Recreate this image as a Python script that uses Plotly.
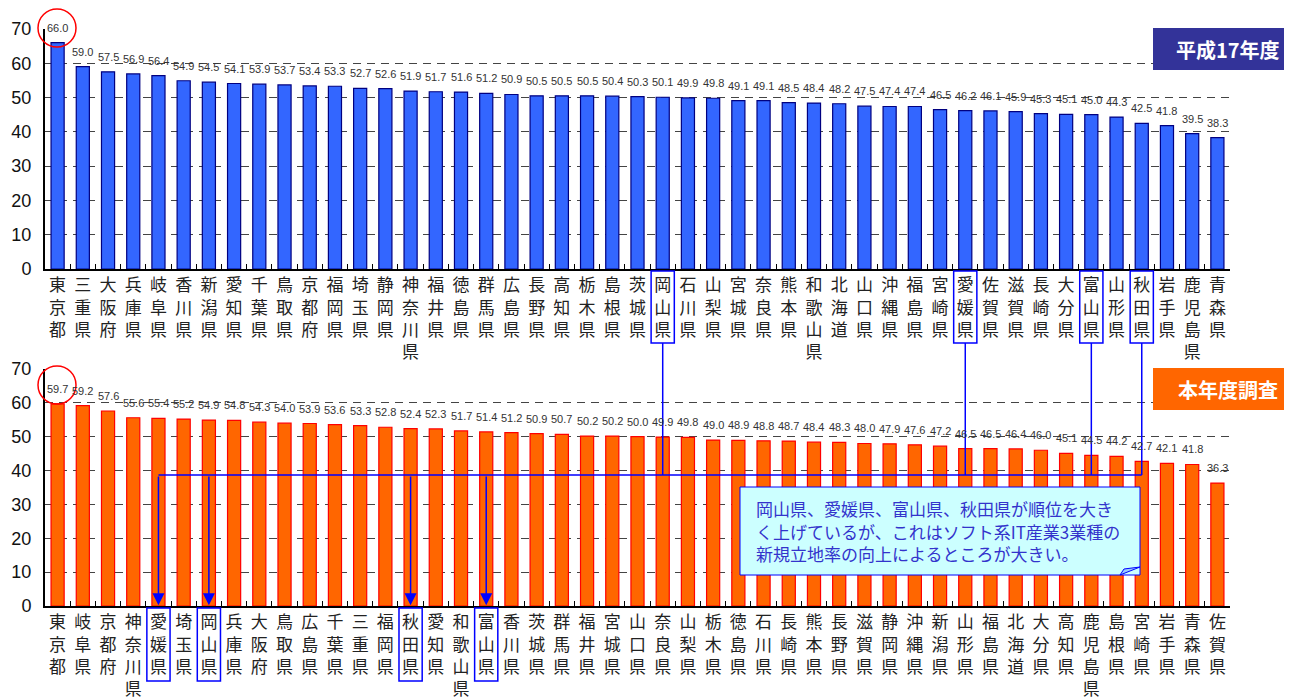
import plotly.graph_objects as go

# ---------------- data ----------------
h17_names = ["東京都","三重県","大阪府","兵庫県","岐阜県","香川県","新潟県","愛知県","千葉県","鳥取県",
             "京都府","福岡県","埼玉県","静岡県","神奈川県","福井県","徳島県","群馬県","広島県","長野県",
             "高知県","栃木県","島根県","茨城県","岡山県","石川県","山梨県","宮城県","奈良県","熊本県",
             "和歌山県","北海道","山口県","沖縄県","福島県","宮崎県","愛媛県","佐賀県","滋賀県","長崎県",
             "大分県","富山県","山形県","秋田県","岩手県","鹿児島県","青森県"]
h17_values = [66.0,59.0,57.5,56.9,56.4,54.9,54.5,54.1,53.9,53.7,
              53.4,53.3,52.7,52.6,51.9,51.7,51.6,51.2,50.9,50.5,
              50.5,50.5,50.4,50.3,50.1,49.9,49.8,49.1,49.1,48.5,
              48.4,48.2,47.5,47.4,47.4,46.5,46.2,46.1,45.9,45.3,
              45.1,45.0,44.3,42.5,41.8,39.5,38.3]

cur_names = ["東京都","岐阜県","京都府","神奈川県","愛媛県","埼玉県","岡山県","兵庫県","大阪府","鳥取県",
             "広島県","千葉県","三重県","福岡県","秋田県","愛知県","和歌山県","富山県","香川県","茨城県",
             "群馬県","福井県","宮城県","山口県","奈良県","山梨県","栃木県","徳島県","石川県","長崎県",
             "熊本県","長野県","滋賀県","静岡県","沖縄県","新潟県","山形県","福島県","北海道","大分県",
             "高知県","鹿児島県","島根県","宮崎県","岩手県","青森県","佐賀県"]
cur_values = [59.7,59.2,57.6,55.6,55.4,55.2,54.9,54.8,54.3,54.0,
              53.9,53.6,53.3,52.8,52.4,52.3,51.7,51.4,51.2,50.9,
              50.7,50.2,50.2,50.0,49.9,49.8,49.0,48.9,48.8,48.7,
              48.4,48.3,48.0,47.9,47.6,47.2,46.5,46.5,46.4,46.0,
              45.1,44.5,44.2,42.7,42.1,41.8,36.3]

highlight = ["岡山県", "愛媛県", "富山県", "秋田県"]
top_title = "平成17年度"
bot_title = "本年度調査"
note_lines = ["岡山県、愛媛県、富山県、秋田県が順位を大き",
              "く上げているが、これはソフト系IT産業3業種の",
              "新規立地率の向上によるところが大きい。"]

# ---------------- helpers ----------------
OFF = 8                      # page body margin
W, H = 1292 - OFF, 700 - OFF
def px(x):
    return (x - OFF) / W
def py(y):
    return 1 - (y - OFF) / H

def vert(name):
    return "<br>".join(list(name))

top_x = [vert(n) for n in h17_names]
bot_x = [vert(n) for n in cur_names]

CJK = "Noto Sans CJK JP"
LAT = "Liberation Sans, Arial, sans-serif"

fig = go.Figure()
fig.add_trace(go.Bar(
    x=top_x, y=h17_values, xaxis="x", yaxis="y",
    marker=dict(color="#3366FF", line=dict(color="#000080", width=1.2)),
    width=0.52, showlegend=False, hoverinfo="skip"))
fig.add_trace(go.Bar(
    x=bot_x, y=cur_values, xaxis="x2", yaxis="y2",
    marker=dict(color="#FF6600", line=dict(color="#FF0000", width=1.2)),
    width=0.52, showlegend=False, hoverinfo="skip"))

xdom = [px(45), px(1230)]
xcommon = dict(type="category", showline=True, linecolor="black", linewidth=2,
               ticks="inside", tickson="boundaries", ticklen=5, tickcolor="black",
               tickangle=0,
               tickfont=dict(family=CJK, size=17, color="#222222"),
               showgrid=False, domain=xdom, range=[-0.5, 46.5], automargin=False)
ycommon = dict(range=[0, 70], dtick=10, showline=True, linecolor="black", linewidth=2,
               showgrid=True, gridcolor="#444444", griddash="8px,6px", gridwidth=1,
               tickfont=dict(family=LAT, size=18, color="#111111"),
               ticklabelstandoff=8,
               zeroline=False, ticks="", automargin=False)

fig.update_layout(
    width=W, height=H, margin=dict(l=0, r=0, t=0, b=0),
    paper_bgcolor="white", plot_bgcolor="white",
    xaxis=dict(**xcommon, anchor="y"),
    yaxis=dict(**ycommon, domain=[py(269), py(29)], anchor="x"),
    xaxis2=dict(**xcommon, anchor="y2"),
    yaxis2=dict(**ycommon, domain=[py(606), py(369)], anchor="x2"),
)

shapes = []
annotations = []

# value labels above bars
for xs, vals, xr, yr in [(top_x, h17_values, "x", "y"), (bot_x, cur_values, "x2", "y2")]:
    for i, v in enumerate(vals):
        annotations.append(dict(xref=xr, yref=yr, x=i, y=v, text=f"{v:.1f}",
                                showarrow=False, xanchor="center", yanchor="bottom",
                                yshift=7, font=dict(family=LAT, size=11, color="#333333")))

# red circles around top values
shapes.append(dict(type="circle", xref="paper", yref="paper",
                   x0=px(38), x1=px(76), y0=py(47), y1=py(9),
                   line=dict(color="#FF0000", width=1.5)))
shapes.append(dict(type="circle", xref="paper", yref="paper",
                   x0=px(38), x1=px(76), y0=py(404), y1=py(366),
                   line=dict(color="#FF0000", width=1.5)))

BLUE = "#0000FF"
conn_y = py(475)
top_idx = [h17_names.index(n) for n in highlight]
bot_idx = [cur_names.index(n) for n in highlight]

# highlight boxes + connectors
for i in top_idx:
    shapes.append(dict(type="rect", xref="x", yref="paper", x0=i - 0.46, x1=i + 0.46,
                       y0=py(343), y1=py(271), line=dict(color=BLUE, width=1.5)))
    shapes.append(dict(type="line", xref="x", yref="paper", x0=i, x1=i,
                       y0=py(343), y1=conn_y, line=dict(color=BLUE, width=1.5)))
for i in bot_idx:
    shapes.append(dict(type="rect", xref="x2", yref="paper", x0=i - 0.46, x1=i + 0.46,
                       y0=py(681), y1=py(608), line=dict(color=BLUE, width=1.5)))
    annotations.append(dict(xref="x2", yref="y2", x=i, y=0.2, axref="x2", ayref="y2",
                            ax=i, ay=(606 - 475) / (606 - 369) * 70, text="", showarrow=True,
                            arrowhead=2, arrowsize=1.6, arrowwidth=1.5, arrowcolor=BLUE))

shapes.append(dict(type="line", xref="x2", yref="paper", x0=min(bot_idx), x1=max(top_idx),
                   y0=conn_y, y1=conn_y, line=dict(color=BLUE, width=1.5)))

# note box
shapes.append(dict(type="rect", xref="paper", yref="paper", x0=px(740), x1=px(1140),
                   y0=py(575), y1=py(487), fillcolor="#CCFFFF",
                   line=dict(color=BLUE, width=1)))
shapes.append(dict(type="path", xref="paper", yref="paper",
                   path=f"M {px(1120)},{py(575)} L {px(1140)},{py(567)} L {px(1124)},{py(569)} Z",
                   fillcolor="#99CCFF", line=dict(color=BLUE, width=1)))
for line, yy in zip(note_lines, [508, 531, 553]):
    annotations.append(dict(xref="paper", yref="paper", x=px(754), y=py(yy),
                            xanchor="left", yanchor="middle", align="left", showarrow=False,
                            text=line, font=dict(family=CJK, size=17, color="#3333CC")))

# title boxes
shapes.append(dict(type="rect", xref="paper", yref="paper", x0=px(1153), x1=1,
                   y0=py(70), y1=py(28), fillcolor="#333399", line=dict(width=0)))
annotations.append(dict(xref="paper", yref="paper", x=px(1228), y=py(49), showarrow=False,
                        xanchor="center", yanchor="middle",
                        text=f"<b>{top_title}</b>", font=dict(family=CJK, size=20, color="white")))
shapes.append(dict(type="rect", xref="paper", yref="paper", x0=px(1153), x1=1,
                   y0=py(410), y1=py(368), fillcolor="#FF6600", line=dict(width=0)))
annotations.append(dict(xref="paper", yref="paper", x=px(1228), y=py(389), showarrow=False,
                        xanchor="center", yanchor="middle",
                        text=f"<b>{bot_title}</b>", font=dict(family=CJK, size=20, color="white")))

fig.update_layout(shapes=shapes, annotations=annotations)
fig.write_html("out.html")
